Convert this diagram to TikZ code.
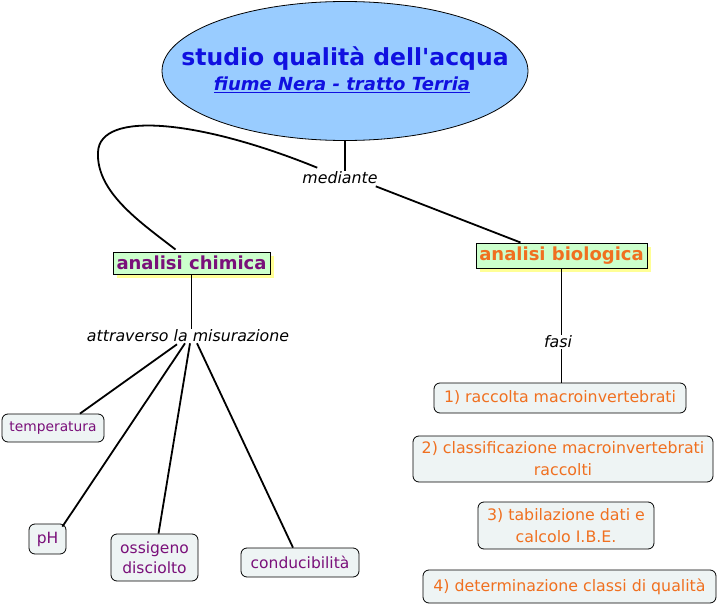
\documentclass[tikz,border=0pt]{standalone}
\usepackage{fontspec}
\setmainfont{DejaVu Sans}[Ligatures=TeXOff]
\usetikzlibrary{shapes.geometric,calc,shadows}
\definecolor{ellfill}{RGB}{153,204,255}
\definecolor{titleblue}{RGB}{16,16,224}
\definecolor{purp}{RGB}{122,16,122}
\definecolor{orng}{RGB}{240,112,32}
\definecolor{greenfill}{RGB}{204,255,204}
\definecolor{shadowy}{RGB}{255,255,150}
\definecolor{boxfill}{RGB}{238,244,244}
\begin{document}
\begin{tikzpicture}[x=1pt,y=-1pt,
  conn/.style={line width=1.8pt},
  mainbox/.style={draw=black, fill=greenfill, line width=1pt, inner sep=0pt,
    font=\fontsize{18}{21}\selectfont\bfseries,
    drop shadow={shadow xshift=4pt, shadow yshift=-4pt, fill=shadowy, opacity=1}},
  leaf/.style={draw=black, fill=boxfill, rounded corners=6pt, line width=0.8pt,
    inner sep=0pt, align=center},
  purpleleaf/.style={leaf, text=purp, font=\fontsize{15.5}{20}\selectfont},
  smallpurpleleaf/.style={leaf, text=purp, font=\fontsize{13.8}{19}\selectfont},
  orangeleaf/.style={leaf, text=orng, font=\fontsize{15.8}{22}\selectfont},
  linklabel/.style={font=\fontsize{15.8}{18}\selectfont\itshape, inner sep=1pt}]
\useasboundingbox (0,0) rectangle (718,605);

% title
\node[ellipse, draw=black, line width=0.8pt, fill=ellfill, minimum width=366, minimum height=139,
  inner sep=0pt] (title) at (345,71) {};
\node[text=titleblue, font=\fontsize{23.5}{28}\selectfont\bfseries, inner sep=0pt] (tmain) at (345,59)
  {studio qualità dell'acqua};
\node[text=titleblue, font=\fontsize{18}{21}\selectfont\bfseries\itshape, inner sep=0pt] (tsub) at (342,85)
  {\underline{fiume Nera - tratto Terria}};

% link labels
\node[linklabel] (med) at (340,178) {mediante};
\node[linklabel] (attr) at (188,336) {attraverso la misurazione};
\node[linklabel] (fasi) at (558,342) {fasi};

% main boxes
\node[mainbox, text=purp, minimum width=157, minimum height=22] (chim) at (191.5,263) {analisi chimica};
\node[mainbox, text=orng, minimum width=171, minimum height=25] (bio) at (561.5,255.5) {analisi biologica};

% leaves left
\node[smallpurpleleaf, minimum width=102, minimum height=28] (temp) at (53,428) {temperatura};
\node[purpleleaf, minimum width=37, minimum height=30] (ph) at (47.5,539) {pH};
\node[purpleleaf, minimum width=87, minimum height=47] (oss) at (154.5,557.5) {ossigeno\\disciolto};
\node[purpleleaf, minimum width=118, minimum height=29] (cond) at (300,562.5) {conducibilità};

% leaves right
\node[orangeleaf, minimum width=252, minimum height=30] (b1) at (560,398) {1) raccolta macroinvertebrati};
\node[orangeleaf, minimum width=300, minimum height=46] (b2) at (563,459) {2) classificazione macroinvertebrati\\raccolti};
\node[orangeleaf, minimum width=176, minimum height=47] (b3) at (566,525.5) {3) tabilazione dati e\\calcolo I.B.E.};
\node[orangeleaf, minimum width=293, minimum height=33] (b4) at (569.5,586.5) {4) determinazione classi di qualità};

% connectors
\draw[conn] (title.south) -- (title.south |- med.north);
\draw[conn] ([xshift=16pt,yshift=3pt]med.north west)
  .. controls (200,120) and (100,110) .. (98,152)
  .. controls (96,192) and (140,222) .. ([xshift=-16pt,yshift=2pt]chim.north);
\draw[conn] ([xshift=-3pt,yshift=-1pt]med.south east) -- ([xshift=-41pt]bio.north);

\draw[conn] (chim.south) -- (chim.south |- attr.north);
\draw[conn] ([xshift=-11pt,yshift=-1pt]attr.south) -- ([xshift=27pt]temp.north);
\draw[conn] ([xshift=-3pt]attr.south) -- ([xshift=-4pt,yshift=-3pt]ph.north east);
\draw[conn] ([xshift=2pt]attr.south) -- ([xshift=4pt]oss.north);
\draw[conn] ([xshift=9pt]attr.south) -- ([xshift=-7pt]cond.north);

\draw[conn] (bio.south) -- (bio.south |- fasi.north);
\draw[conn] (fasi.south -| bio.south) -- (bio.south |- b1.north);
\end{tikzpicture}
\end{document}
